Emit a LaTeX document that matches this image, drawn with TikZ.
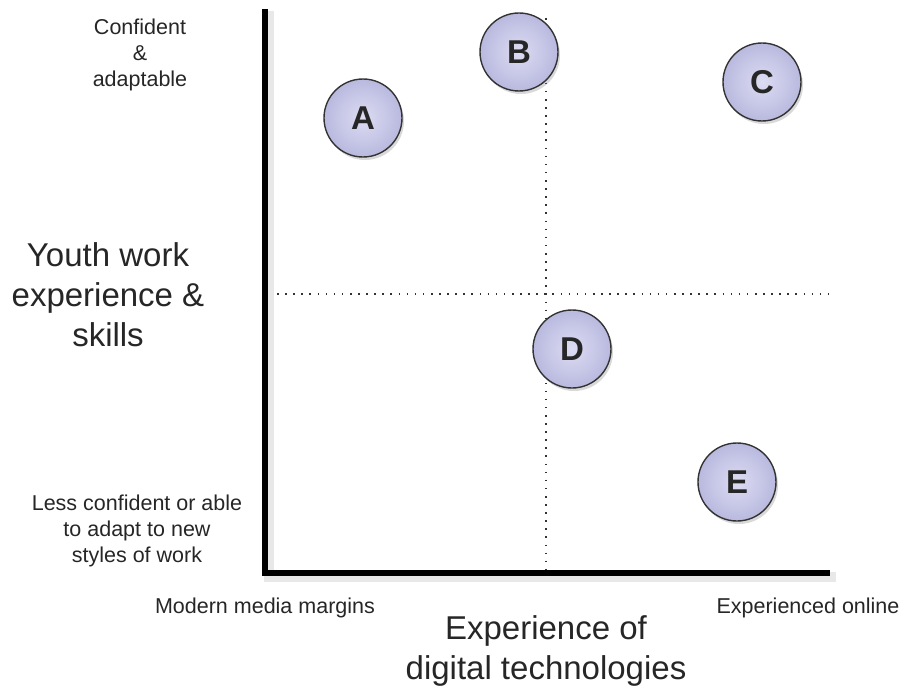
\documentclass[tikz,border=0pt]{standalone}
\usepackage{fontspec}
\setmainfont{Liberation Sans}
\usetikzlibrary{shadows,calc}
\definecolor{ballfill}{HTML}{DCDCF3}
\definecolor{ballrim}{HTML}{B9B9DF}
\tikzset{
  ball/.style={circle, draw=black!80, line width=1.4pt, minimum size=78pt,
    inner color=ballfill, outer color=ballrim,
    drop shadow={shadow xshift=2pt, shadow yshift=-3pt, opacity=0.3},
    font=\fontsize{33}{33}\selectfont\bfseries, text=black!85},
  note/.style={align=center, font=\fontsize{21.5}{26}\selectfont, text=black!85},
  title/.style={align=center, font=\fontsize{33}{40}\selectfont, text=black!85},
  axis/.style={line width=6pt, line cap=rect},
  grid/.style={line width=1.5pt, dash pattern=on 1.6pt off 6.5pt, black!80}
}
\begin{document}
\begin{tikzpicture}[x=1pt, y=-1pt]
  \useasboundingbox (0,0) rectangle (905,690);
  % axes
  \coordinate (top) at (265,12);
  \coordinate (origin) at (265,573);
  \coordinate (right) at (827,573);
  \draw[axis, black!9, line width=10pt] ($(top)+(4,4)$) -- ($(origin)+(4,4)$) -- ($(right)+(4,4)$);
  \draw[axis] (top) -- (origin) -- (right);
  % quadrant lines
  \coordinate (hl) at (277,294);
  \coordinate (hr) at (828,294);
  \coordinate (vt) at (546,18);
  \coordinate (vb) at (546,570);
  \draw[grid] (hl) -- (hr);
  \draw[grid] (vt) -- (vb);
  % groups
  \node[ball] (A) at (363,118) {A};
  \node[ball] (B) at (519,52) {B};
  \node[ball] (C) at (762,82) {C};
  \node[ball] (D) at (572,349) {D};
  \node[ball] (E) at (737,482) {E};
  % labels
  \node[note] (hi) at (140,55) {Confident\\\&\\adaptable};
  \node[note] (lo) at (137,531) {Less confident or able\\to adapt to new\\styles of work};
  \node[note] (left) at (265,608) {Modern media margins};
  \node[note] (online) at (808,608) {Experienced online};
  \node[title] (yl) at (108,295) {Youth work\\experience \&\\skills};
  \node[title] (xl) at (546,651) {Experience of\\digital technologies};
\end{tikzpicture}
\end{document}
